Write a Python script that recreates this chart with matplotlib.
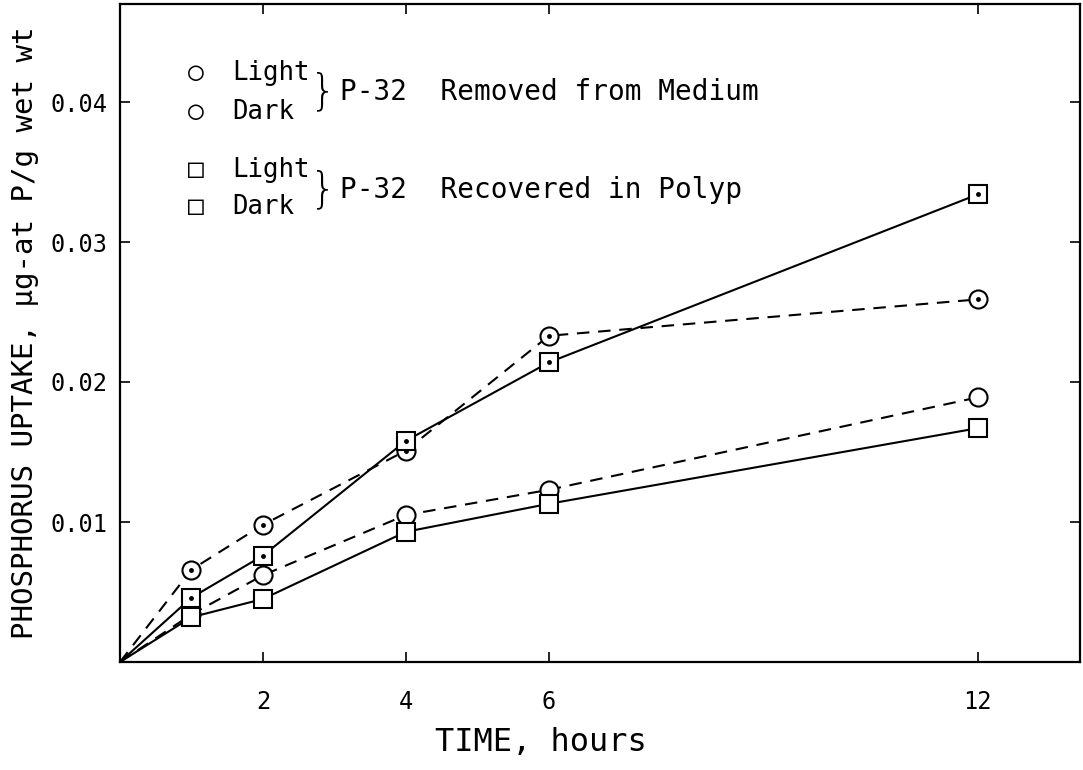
import numpy as np
import matplotlib
matplotlib.use("Agg")
import matplotlib.pyplot as plt

# time points, hours (0 = start of incubation)
hours = [0, 1, 2, 4, 6, 12]

# P-32 removed from medium (circles, dashed)
medium_light = [0, 0.0066, 0.0098, 0.0151, 0.0233, 0.0259]
medium_dark = [0, 0.0034, 0.0062, 0.0105, 0.0123, 0.0189]

# P-32 recovered in polyp (squares, solid)
polyp_light = [0, 0.0046, 0.0076, 0.0158, 0.0214, 0.0334]
polyp_dark = [0, 0.0032, 0.0045, 0.0093, 0.0113, 0.0167]

x_ticks = [2, 4, 6, 12]
y_ticks = [0.01, 0.02, 0.03, 0.04]
y_ticklabels = ["0.01", "0.02", "0.03", "0.04"]

mono = ["DejaVu Sans Mono", "DejaVu Sans"]
plt.rcParams["font.family"] = mono

fig = plt.figure(figsize=(10.83, 7.70), dpi=100)
ax = fig.add_axes([120 / 1083, 1 - 662 / 770, 960 / 1083, 658 / 770])

dash = (0, (6.0, 4.2))
ms = 13

series = [
    (medium_light, "o", dash, True),
    (medium_dark, "o", dash, False),
    (polyp_light, "s", "-", True),
    (polyp_dark, "s", "-", False),
]
for vals, mk, ls, dotted in series:
    ax.plot(hours, vals, color="black", lw=1.5, linestyle=ls, zorder=2)
    ax.plot(hours[1:], vals[1:], linestyle="none", marker=mk, ms=ms,
            mfc="white", mec="black", mew=1.5, zorder=3)
    if dotted:
        ax.plot(hours[1:], vals[1:], linestyle="none", marker="o", ms=2.5,
                color="black", zorder=4)

ax.set_xlim(0, 13.43)
ax.set_ylim(0, 0.047)
ax.set_xticks(x_ticks)
ax.set_xticklabels([str(h) for h in x_ticks])
ax.set_yticks(y_ticks)
ax.set_yticklabels(y_ticklabels)

ax.tick_params(direction="in", length=7, width=1.2, top=True, right=True,
               labeltop=False, labelright=False)
ax.tick_params(axis="x", pad=20, labelsize=17)
ax.tick_params(axis="y", pad=9, labelsize=17)
for sp in ax.spines.values():
    sp.set_linewidth(1.6)

ax.set_xlabel("TIME, hours", fontsize=23, va="center")
ax.xaxis.set_label_coords(0.4385, -0.123)
ax.set_ylabel("PHOSPHORUS UPTAKE, μg-at P/g wet wt", fontsize=21, va="center")
ax.yaxis.set_label_coords(-0.099, 0.5)


def fpos(px, py):
    return px / 1083, 1 - py / 770


# key in the upper left corner
rows = [("○", "Light", 73), ("○", "Dark", 112), ("□", "Light", 170), ("□", "Dark", 207)]
for sym, lab, py in rows:
    fig.text(*fpos(188, py), sym, fontsize=19, va="center", ha="left", family=mono)
    fig.text(*fpos(232, py), lab, fontsize=18.5, va="center", ha="left")

for py, txt in [(92, "P-32  Removed from Medium"), (190, "P-32  Recovered in Polyp")]:
    fig.text(*fpos(323, py), "}", fontsize=30, va="center", ha="center",
             family="DejaVu Sans", fontweight="light")
    fig.text(*fpos(340, py), txt, fontsize=20, va="center", ha="left")

fig.savefig("out.png", dpi=100)
